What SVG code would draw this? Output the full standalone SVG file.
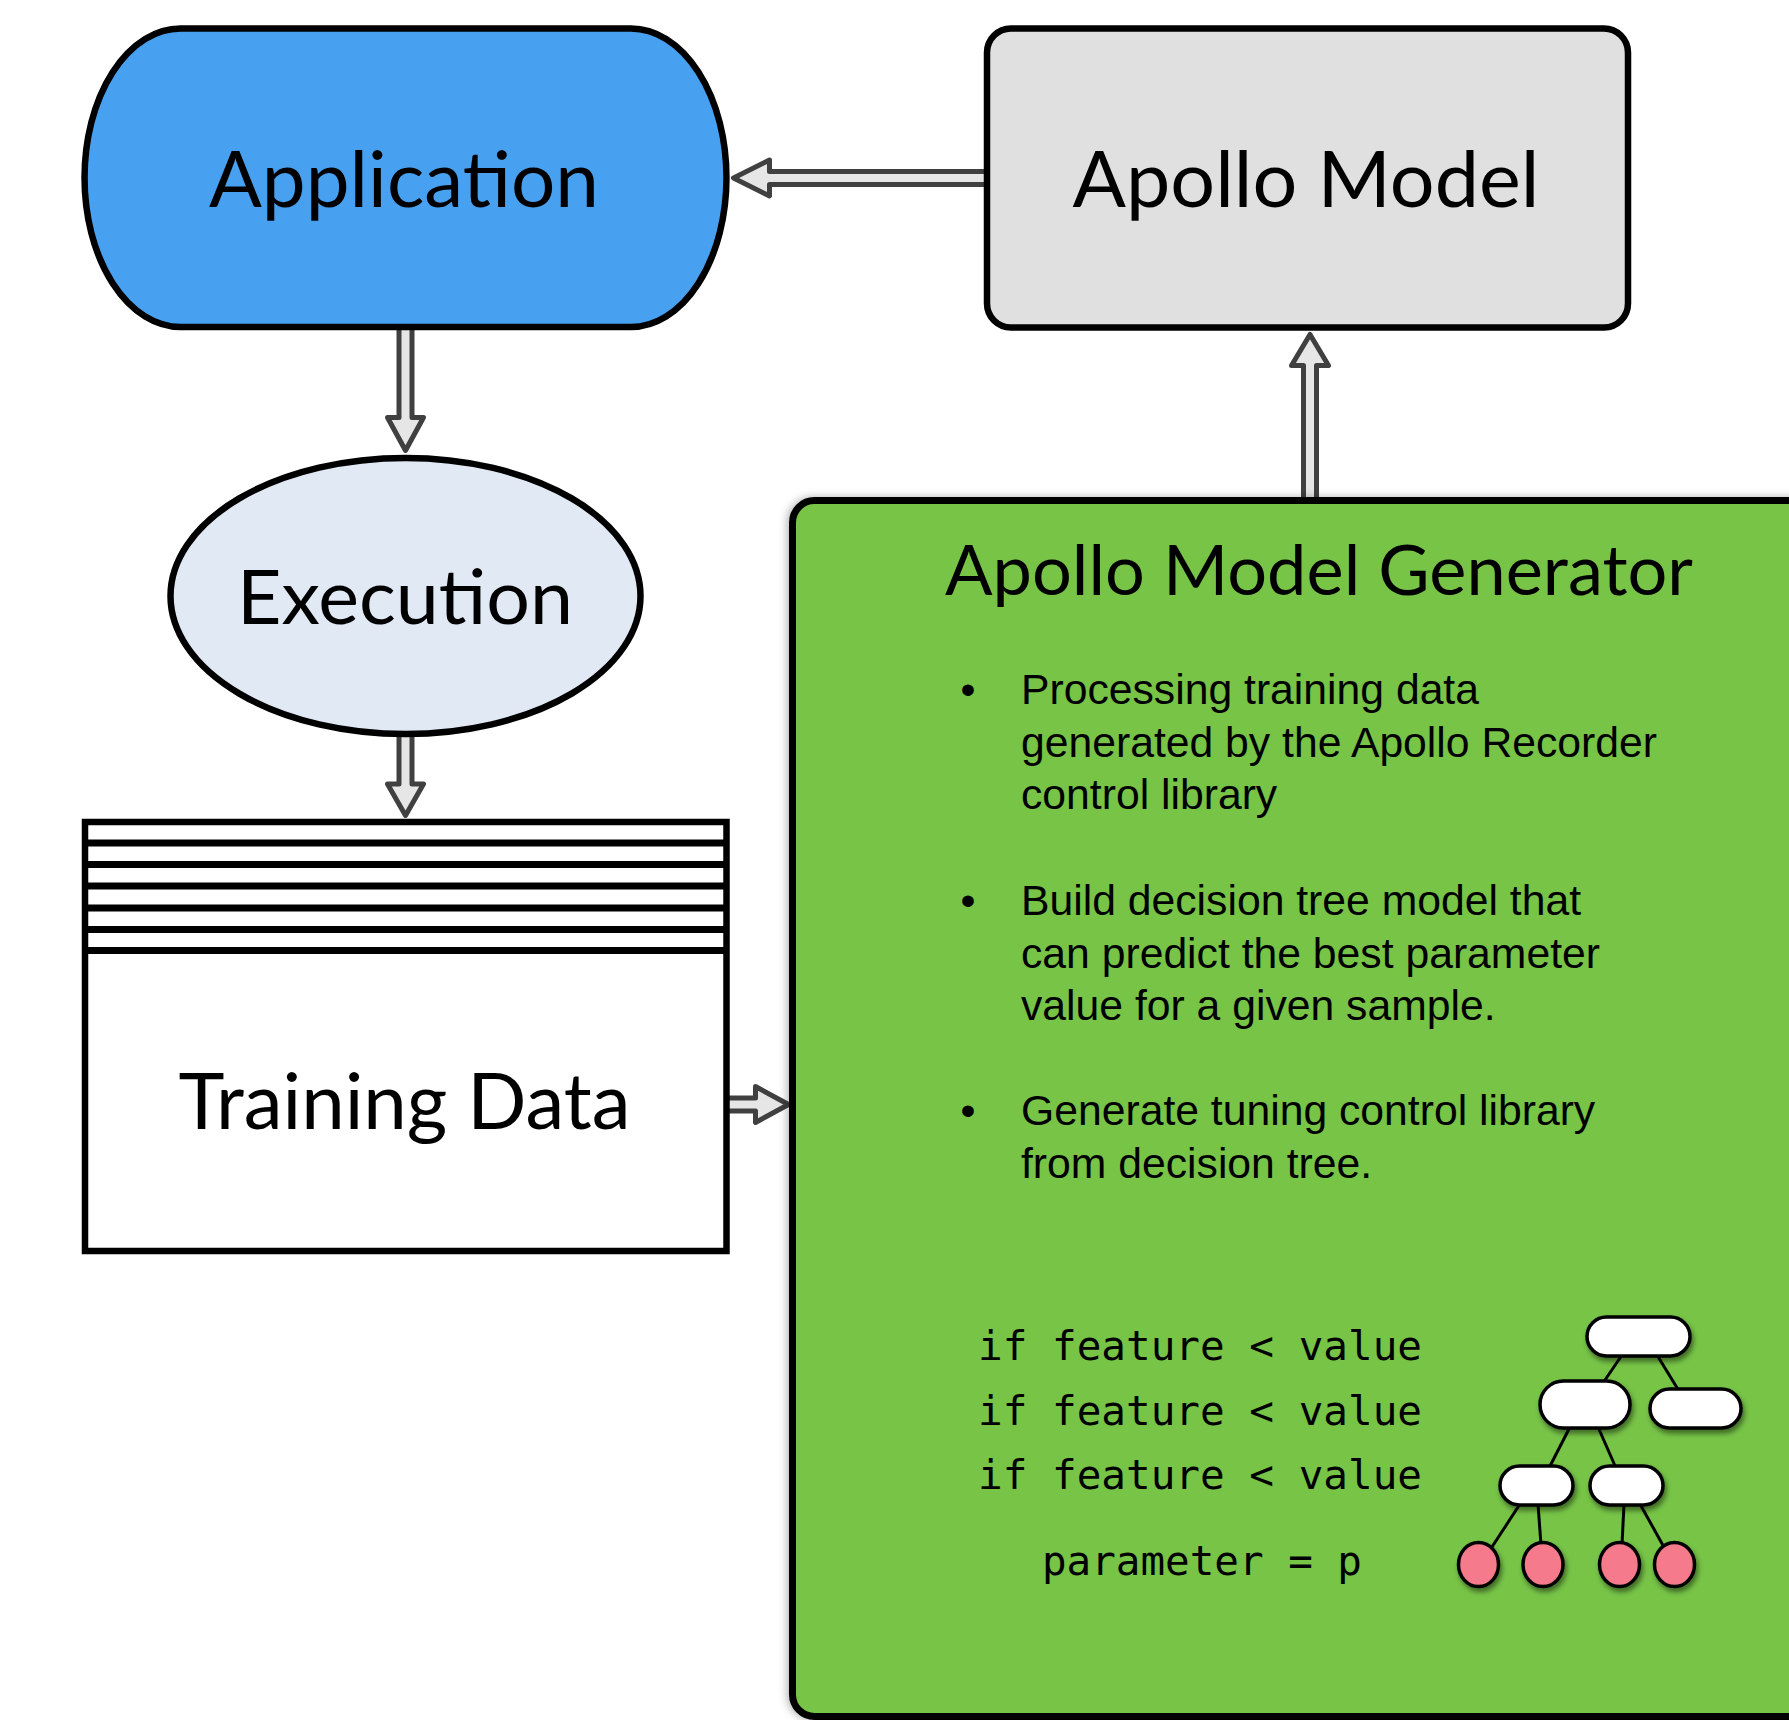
<svg xmlns="http://www.w3.org/2000/svg" width="1789" height="1720" viewBox="0 0 1789 1720">
<defs>
<style>
.title{font-family:Lato,"Open Sans","Noto Sans",sans-serif;fill:#000;text-anchor:middle}
.bul{font-family:"Liberation Sans",Arial,sans-serif;font-size:42.7px;fill:#000}
.code{font-family:"DejaVu Sans Mono","Liberation Mono",monospace;font-size:41px;fill:#000}
.arr{fill:#e6e6e6;stroke:#404040;stroke-width:5;stroke-linejoin:round}
.edge{stroke:#000;stroke-width:3;fill:none}
.tn{fill:#fff;stroke:#000;stroke-width:3.5}
.leaf{fill:#f47a8c;stroke:#000;stroke-width:3.5}
</style>
<filter id="sh" x="-30%" y="-30%" width="170%" height="180%">
<feDropShadow dx="2" dy="4" stdDeviation="2.5" flood-color="#000" flood-opacity="0.45"/>
</filter>
<filter id="bsh" filterUnits="userSpaceOnUse" x="700" y="420" width="1200" height="1400">
<feDropShadow dx="-2" dy="0" stdDeviation="4" flood-color="#000" flood-opacity="0.3"/>
</filter>
</defs>
<rect x="0" y="0" width="1789" height="1720" fill="#fff"/>

<g id="connectors">
<path class="arr" d="M399,322 V417.5 H387.5 L405.5,450.5 L423.5,417.5 H412 V322 Z"/>
<path class="arr" d="M399,730 V784 H387.5 L405.5,815.5 L423.5,784 H412 V730 Z"/>
<path class="arr" d="M720,1098 H755.5 V1086.5 L788.5,1104.5 L755.5,1122.5 V1111 H720 Z"/>
<path class="arr" d="M1303.5,505 V365.5 H1291.5 L1310,334.5 L1328.5,365.5 H1316.5 V505 Z"/>
<path class="arr" d="M990,171.5 H769.5 V160 L733.5,178 L769.5,196 V184.5 H990 Z"/>
</g>

<g id="node-application">
<path d="M180.5,28.5 H631 A95.5,149.25 0 0 1 631,327 H180.5 A96,149.25 0 0 1 180.5,28.5 Z" fill="#48a1f0" stroke="#000" stroke-width="6.5"/>
<text class="title" x="404" y="207" font-size="77" textLength="390" lengthAdjust="spacingAndGlyphs">Application</text>
</g>

<g id="node-apollo-model">
<rect x="987" y="28.5" width="641" height="299" rx="24" fill="#e0e0e0" stroke="#000" stroke-width="6.5"/>
<text class="title" x="1306" y="207" font-size="77" textLength="467" lengthAdjust="spacingAndGlyphs">Apollo Model</text>
</g>

<g id="node-execution">
<ellipse cx="405.5" cy="596" rx="235" ry="138" fill="#e1e9f5" stroke="#000" stroke-width="6.5"/>
<text class="title" x="405" y="624" font-size="75" textLength="336" lengthAdjust="spacingAndGlyphs">Execution</text>
</g>

<g id="node-training-data">
<rect x="85" y="822" width="641.5" height="429" fill="#fff" stroke="#000" stroke-width="6.5"/>
<g stroke="#000" stroke-width="7">
<line x1="85" y1="843" x2="726.5" y2="843"/>
<line x1="85" y1="864.5" x2="726.5" y2="864.5"/>
<line x1="85" y1="886" x2="726.5" y2="886"/>
<line x1="85" y1="908" x2="726.5" y2="908"/>
<line x1="85" y1="929.5" x2="726.5" y2="929.5"/>
<line x1="85" y1="950.5" x2="726.5" y2="950.5"/>
</g>
<text class="title" x="404.5" y="1129" font-size="77" textLength="452" lengthAdjust="spacingAndGlyphs">Training Data</text>
</g>

<g id="node-generator">
<rect x="792.5" y="500.5" width="1100" height="1216" rx="22" fill="#77c446" stroke="#000" stroke-width="7" filter="url(#bsh)"/>
<text class="title" x="1319" y="595" font-size="70" textLength="748" lengthAdjust="spacingAndGlyphs">Apollo Model Generator</text>
<g>
<text class="bul" x="968" y="704" text-anchor="middle">•</text>
<text class="bul" x="1021" y="704">Processing training data</text>
<text class="bul" x="1021" y="756.5">generated by the Apollo Recorder</text>
<text class="bul" x="1021" y="809">control library</text>
<text class="bul" x="968" y="915" text-anchor="middle">•</text>
<text class="bul" x="1021" y="915">Build decision tree model that</text>
<text class="bul" x="1021" y="967.5">can predict the best parameter</text>
<text class="bul" x="1021" y="1020">value for a given sample.</text>
<text class="bul" x="968" y="1125" text-anchor="middle">•</text>
<text class="bul" x="1021" y="1125">Generate tuning control library</text>
<text class="bul" x="1021" y="1177.5">from decision tree.</text>
</g>
<g>
<text class="code" x="978" y="1360" textLength="444" lengthAdjust="spacingAndGlyphs" xml:space="preserve">if feature &lt; value</text>
<text class="code" x="978" y="1425" textLength="444" lengthAdjust="spacingAndGlyphs" xml:space="preserve">if feature &lt; value</text>
<text class="code" x="978" y="1489" textLength="444" lengthAdjust="spacingAndGlyphs" xml:space="preserve">if feature &lt; value</text>
<text class="code" x="1042" y="1575" textLength="320" lengthAdjust="spacingAndGlyphs" xml:space="preserve">parameter = p</text>
</g>
<g id="decision-tree">
<g class="edge">
<line x1="1622" y1="1355" x2="1603" y2="1383"/>
<line x1="1657" y1="1355" x2="1679" y2="1391"/>
<line x1="1570" y1="1427" x2="1549" y2="1468"/>
<line x1="1598" y1="1427" x2="1616" y2="1468"/>
<line x1="1520" y1="1504" x2="1490" y2="1550"/>
<line x1="1538" y1="1504" x2="1541" y2="1545"/>
<line x1="1624" y1="1504" x2="1622" y2="1545"/>
<line x1="1640" y1="1504" x2="1665" y2="1549"/>
</g>
<g filter="url(#sh)">
<rect class="tn" x="1587" y="1317" width="103" height="39" rx="19.5"/>
<rect class="tn" x="1540" y="1381" width="90" height="47" rx="23.5"/>
<rect class="tn" x="1650" y="1389" width="91" height="39" rx="19.5"/>
<rect class="tn" x="1500" y="1466" width="73" height="39" rx="19.5"/>
<rect class="tn" x="1590" y="1466" width="73" height="39" rx="19.5"/>
<ellipse class="leaf" cx="1478.5" cy="1564.5" rx="20" ry="22"/>
<ellipse class="leaf" cx="1543" cy="1564.5" rx="20" ry="22"/>
<ellipse class="leaf" cx="1619.5" cy="1564.5" rx="20" ry="22"/>
<ellipse class="leaf" cx="1674.5" cy="1564.5" rx="20" ry="22"/>
</g>
</g>
</g>
</svg>
